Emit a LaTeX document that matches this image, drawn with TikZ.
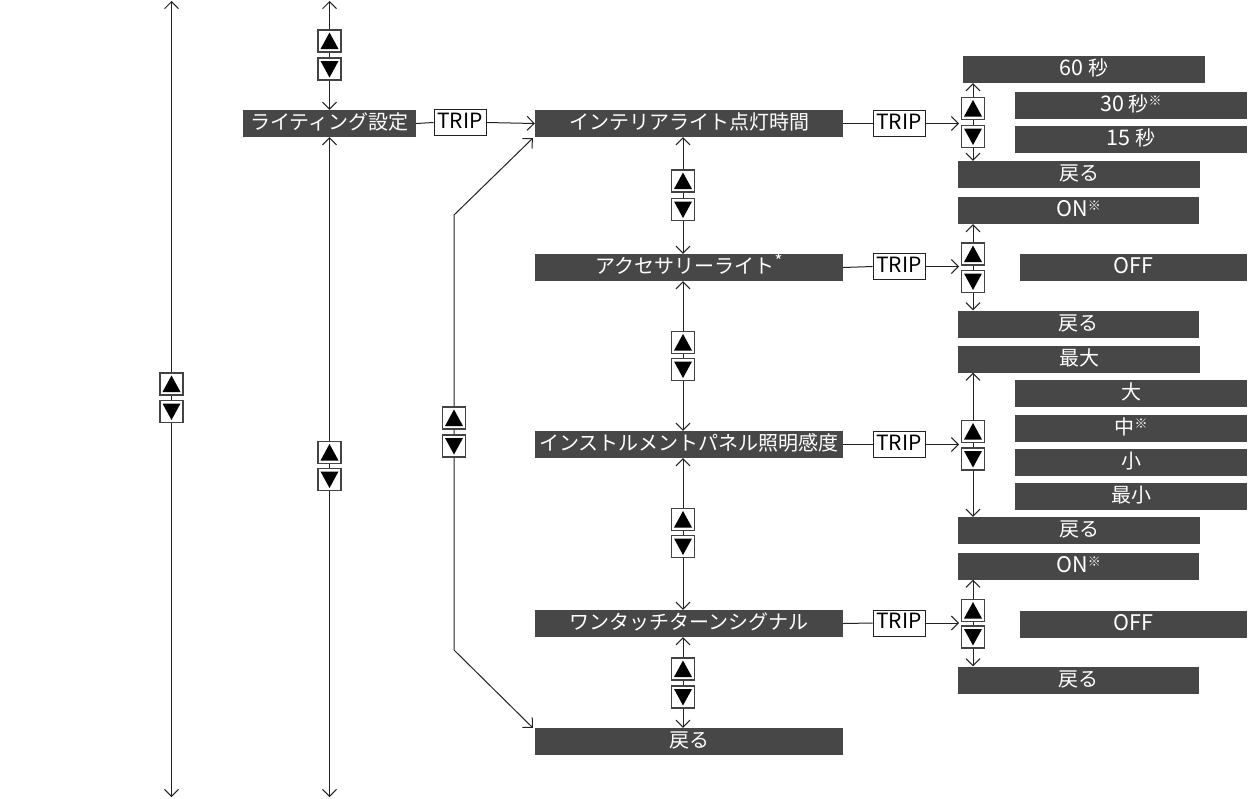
\documentclass[tikz,border=0pt]{standalone}
\usepackage{fontspec}
\setmainfont{Noto Sans CJK JP}
\usetikzlibrary{arrows.meta}
\definecolor{boxgray}{HTML}{474747}
\definecolor{linecol}{HTML}{222222}
\newcommand\kome{\raisebox{6pt}{\fontsize{13}{13}\selectfont ※}}
\newcommand\astmark{\raisebox{6pt}{\fontsize{17}{17}\selectfont *}}
\newcommand\lat[1]{{\fontsize{21.5}{21.5}\selectfont #1}}
\begin{document}
\begin{tikzpicture}[x=1pt,y=-1pt,
  >={Straight Barb[length=7pt,width=14pt]},
  item/.style={fill=boxgray, text=white, inner sep=0pt, minimum height=27pt,
    font=\fontsize{20}{20}\selectfont, text height=16pt, text depth=4pt},
  trip/.style={draw=linecol, fill=white, line width=0.9pt, minimum width=52pt,
    minimum height=26pt, inner sep=0pt, font=\fontsize{21}{21}\selectfont,
    text height=15.5pt, text depth=4pt},
  conn/.style={draw=linecol, line width=1pt},
  btnbase/.style={draw=linecol!85, fill=white, line width=1.1pt, minimum width=23pt,
    minimum height=22pt, inner sep=0pt},
  btnup/.style={btnbase, path picture={\fill[black]
    ([shift={(2.5pt,3pt)}]path picture bounding box.south west) --
    ([shift={(-2.5pt,3pt)}]path picture bounding box.south east) --
    ([shift={(0pt,-2.5pt)}]path picture bounding box.north) -- cycle;}},
  btndn/.style={btnbase, path picture={\fill[black]
    ([shift={(2.5pt,-3pt)}]path picture bounding box.north west) --
    ([shift={(-2.5pt,-3pt)}]path picture bounding box.north east) --
    ([shift={(0pt,2.5pt)}]path picture bounding box.south) -- cycle;}}
]
\useasboundingbox (0,0) rectangle (1252,798);

% ---- main column nodes
\node[item, minimum width=173pt] (light) at (329.5,123.5) {ライティング設定};
\node[trip] (trip0) at (460,122.5) {TRIP};
\node[item, minimum width=308pt] (int) at (689,123.5) {インテリアライト点灯時間};
\node[item, minimum width=308pt] (acc) at (689,267.5) {アクセサリーライト\astmark};
\node[item, minimum width=308pt] (inst) at (689,444.5) {インストルメントパネル照明感度};
\node[item, minimum width=308pt] (one) at (689,623.5) {ワンタッチターンシグナル};
\node[item, minimum width=308pt] (back0) at (689,741.5) {戻る};

% ---- TRIP boxes on the right
\node[trip] (tr1) at (899,123.5) {TRIP};
\node[trip] (tr2) at (899,266.5) {TRIP};
\node[trip] (tr3) at (899,444.5) {TRIP};
\node[trip] (tr4) at (899,623) {TRIP};

% ---- right stacks
\node[item, minimum width=242pt] (s60) at (1084,69.5) {\lat{60} 秒};
\node[item, minimum width=232pt] (s30) at (1131,105) {\lat{30} 秒\kome};
\node[item, minimum width=232pt] (s15) at (1131,139.5) {\lat{15} 秒};
\node[item, minimum width=242pt] (back1) at (1079,174.5) {戻る};

\node[item, minimum width=241pt] (on2) at (1078.5,210.5) {\lat{ON}\kome};
\node[item, minimum width=227pt] (off2) at (1133.5,267) {\lat{OFF}};
\node[item, minimum width=241pt] (back2) at (1078.5,324) {戻る};

\node[item, minimum width=242pt] (max3) at (1079,359) {最大};
\node[item, minimum width=232pt] (big3) at (1131,393) {大};
\node[item, minimum width=232pt] (mid3) at (1131,428) {中\kome};
\node[item, minimum width=232pt] (sml3) at (1131,462) {小};
\node[item, minimum width=232pt] (min3) at (1131,496.5) {最小};
\node[item, minimum width=242pt] (back3) at (1079,530.5) {戻る};

\node[item, minimum width=241pt] (on4) at (1078.5,566) {\lat{ON}\kome};
\node[item, minimum width=227pt] (off4) at (1133.5,624) {\lat{OFF}};
\node[item, minimum width=241pt] (back4) at (1078.5,680) {戻る};

% ---- free ends
\coordinate (Ltop) at (171.5,1);
\coordinate (Lbot) at (171.5,797);
\coordinate (L2top) at (329.5,1);
\coordinate (L2bot) at (329.5,797);
\coordinate (bend1) at (454,215);
\coordinate (bend2) at (454,650);
\coordinate (rx) at (973,0);
\coordinate (t1) at (959,123.5);
\coordinate (t2) at (959,266.5);
\coordinate (t3) at (959,444.5);
\coordinate (t4) at (959,623);

% ---- connectors
\draw[conn,<->] (Ltop) -- (Lbot);
\draw[conn,<->] (L2top) -- (light.north);
\draw[conn,<->] (light.south) -- (L2bot);
\draw[conn] (light.east) -- (trip0.west);
\draw[conn,->] (trip0.east) -- (int.west);
\draw[conn,<->] ([shift={(-2pt,-1pt)}]int.south west) -- (bend1) -- (bend2) -- ([xshift=-2pt]back0.north west);

\draw[conn,<->] ([xshift=-6pt]int.south) -- ([xshift=-6pt]acc.north);
\draw[conn,<->] ([xshift=-6pt]acc.south) -- ([xshift=-6pt]inst.north);
\draw[conn,<->] ([xshift=-6pt]inst.south) -- ([xshift=-6pt]one.north);
\draw[conn,<->] ([xshift=-6pt]one.south) -- ([xshift=-6pt]back0.north);

\draw[conn] (int.east) -- (tr1.west);
\draw[conn] (acc.east) -- (tr2.west);
\draw[conn] (inst.east) -- (tr3.west);
\draw[conn] (one.east) -- (tr4.west);
\draw[conn,->] (tr1.east) -- (t1);
\draw[conn,->] (tr2.east) -- (t2);
\draw[conn,->] (tr3.east) -- (t3);
\draw[conn,->] (tr4.east) -- (t4);

\draw[conn,<->] (s60.south -| rx) -- (back1.north -| rx);
\draw[conn,<->] (on2.south -| rx) -- (back2.north -| rx);
\draw[conn,<->] (max3.south -| rx) -- (back3.north -| rx);
\draw[conn,<->] (on4.south -| rx) -- (back4.north -| rx);

% ---- up/down buttons
\node[btnup] (bLu) at (171.5,384) {};
\node[btndn] (bLd) at (171.5,411.5) {};
\node[btnup] (bL2u) at (329.5,41) {};
\node[btndn] (bL2d) at (329.5,69) {};
\node[btnup] (bL2bu) at (329.5,452.5) {};
\node[btndn] (bL2bd) at (329.5,479.5) {};
\node[btnup] (bL3u) at (454,418) {};
\node[btndn] (bL3d) at (454,446) {};

\node[btnup] (bM1u) at (683,181) {};
\node[btndn] (bM1d) at (683,209.5) {};
\node[btnup] (bM2u) at (683,342.5) {};
\node[btndn] (bM2d) at (683,369.5) {};
\node[btnup] (bM3u) at (683,519.5) {};
\node[btndn] (bM3d) at (683,546.5) {};
\node[btnup] (bM4u) at (683,669) {};
\node[btndn] (bM4d) at (683,697) {};

\node[btnup] (bR1u) at (973,108.5) {};
\node[btndn] (bR1d) at (973,136.5) {};
\node[btnup] (bR2u) at (973,254) {};
\node[btndn] (bR2d) at (973,281.5) {};
\node[btnup] (bR3u) at (973,431.5) {};
\node[btndn] (bR3d) at (973,459) {};
\node[btnup] (bR4u) at (973,610.5) {};
\node[btndn] (bR4d) at (973,637) {};
\end{tikzpicture}
\end{document}
